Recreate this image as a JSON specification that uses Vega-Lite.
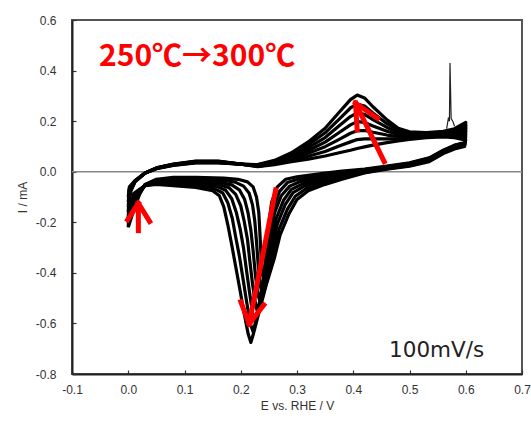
{
"$schema": "https://vega.github.io/schema/vega-lite/v6.json",
"width": 450, "height": 354,
"autosize": "none",
"padding": {"left": 72, "top": 20, "right": 9, "bottom": 47},
"background": "white",
"config": {
 "view": {"stroke": "#555", "strokeWidth": 2},
 "locale": {"number": {"decimal": ".", "thousands": ",", "grouping": [3], "currency": ["$", ""], "minus": "-"}},
 "axis": {"grid": false, "tickSize": -4, "tickColor": "#333", "tickWidth": 1.2, "domainColor": "#222", "domainWidth": 2,
  "labelFont": "Liberation Sans", "labelFontSize": 12, "labelColor": "#333", "labelFlush": false, "labelOverlap": false,
  "titleFont": "Liberation Sans", "titleFontSize": 12, "titleFontWeight": "normal", "titleColor": "#333"}
},
"datasets": {
"spike": [
{"E":0.566,"I":0.17},{"E":0.569,"I":0.21},{"E":0.571,"I":0.2},{"E":0.572,"I":0.43},{"E":0.574,"I":0.21},{"E":0.577,"I":0.2},{"E":0.58,"I":0.18}
],
"cv": [
{"c":0,"o":0,"E":0,"I":-0.22},{"c":0,"o":1,"E":0.002,"I":-0.09},{"c":0,"o":2,"E":0.012,"I":-0.04},{"c":0,"o":3,"E":0.03,"I":-0.005},{"c":0,"o":4,"E":0.05,"I":0.015},{"c":0,"o":5,"E":0.08,"I":0.03},{"c":0,"o":6,"E":0.12,"I":0.042},{"c":0,"o":7,"E":0.16,"I":0.042},{"c":0,"o":8,"E":0.2,"I":0.03},{"c":0,"o":9,"E":0.23,"I":0.02},{"c":0,"o":10,"E":0.26,"I":0.028},{"c":0,"o":11,"E":0.29,"I":0.04},{"c":0,"o":12,"E":0.32,"I":0.05},{"c":0,"o":13,"E":0.35,"I":0.062},{"c":0,"o":14,"E":0.375,"I":0.075},{"c":0,"o":15,"E":0.395,"I":0.085},{"c":0,"o":16,"E":0.407,"I":0.092},{"c":0,"o":17,"E":0.42,"I":0.098},{"c":0,"o":18,"E":0.435,"I":0.105},{"c":0,"o":19,"E":0.46,"I":0.115},{"c":0,"o":20,"E":0.48,"I":0.122},{"c":0,"o":21,"E":0.5,"I":0.128},{"c":0,"o":22,"E":0.53,"I":0.135},{"c":0,"o":23,"E":0.56,"I":0.138},{"c":0,"o":24,"E":0.58,"I":0.135},{"c":0,"o":25,"E":0.6,"I":0.125},
{"c":0,"o":26,"E":0.598,"I":0.115},{"c":0,"o":27,"E":0.58,"I":0.105},{"c":0,"o":28,"E":0.56,"I":0.085},{"c":0,"o":29,"E":0.535,"I":0.055},{"c":0,"o":30,"E":0.5,"I":0.035},{"c":0,"o":31,"E":0.46,"I":0.022},{"c":0,"o":32,"E":0.42,"I":0.01},{"c":0,"o":33,"E":0.38,"I":0.002},{"c":0,"o":34,"E":0.35,"I":-0.005},
{"c":0,"o":35,"E":0.3,"I":-0.02},{"c":0,"o":36,"E":0.28,"I":-0.03},{"c":0,"o":37,"E":0.265,"I":-0.06},{"c":0,"o":38,"E":0.255,"I":-0.12},{"c":0,"o":39,"E":0.249,"I":-0.22},{"c":0,"o":40,"E":0.245,"I":-0.32},{"c":0,"o":41,"E":0.243,"I":-0.38},{"c":0,"o":42,"E":0.242,"I":-0.41},{"c":0,"o":43,"E":0.24,"I":-0.42},{"c":0,"o":44,"E":0.238,"I":-0.4},{"c":0,"o":45,"E":0.236,"I":-0.33},{"c":0,"o":46,"E":0.234,"I":-0.24},{"c":0,"o":47,"E":0.232,"I":-0.16},{"c":0,"o":48,"E":0.228,"I":-0.1},{"c":0,"o":49,"E":0.222,"I":-0.06},{"c":0,"o":50,"E":0.212,"I":-0.04},{"c":0,"o":51,"E":0.195,"I":-0.03},{"c":0,"o":52,"E":0.17,"I":-0.025},
{"c":0,"o":53,"E":0.12,"I":-0.022},{"c":0,"o":54,"E":0.08,"I":-0.022},{"c":0,"o":55,"E":0.05,"I":-0.03},{"c":0,"o":56,"E":0.03,"I":-0.05},{"c":0,"o":57,"E":0.02,"I":-0.09},{"c":0,"o":58,"E":0.01,"I":-0.15},{"c":0,"o":59,"E":0,"I":-0.22},

{"c":1,"o":0,"E":0,"I":-0.2},{"c":1,"o":1,"E":0.002,"I":-0.085},{"c":1,"o":2,"E":0.012,"I":-0.039},{"c":1,"o":3,"E":0.03,"I":-0.005},{"c":1,"o":4,"E":0.05,"I":0.015},{"c":1,"o":5,"E":0.08,"I":0.029},{"c":1,"o":6,"E":0.12,"I":0.041},{"c":1,"o":7,"E":0.16,"I":0.041},{"c":1,"o":8,"E":0.2,"I":0.03},{"c":1,"o":9,"E":0.23,"I":0.021},{"c":1,"o":10,"E":0.26,"I":0.031},{"c":1,"o":11,"E":0.29,"I":0.046},{"c":1,"o":12,"E":0.32,"I":0.061},{"c":1,"o":13,"E":0.35,"I":0.08},{"c":1,"o":14,"E":0.375,"I":0.102},{"c":1,"o":15,"E":0.395,"I":0.118},{"c":1,"o":16,"E":0.407,"I":0.127},{"c":1,"o":17,"E":0.42,"I":0.13},{"c":1,"o":18,"E":0.435,"I":0.13},{"c":1,"o":19,"E":0.46,"I":0.13},{"c":1,"o":20,"E":0.48,"I":0.13},{"c":1,"o":21,"E":0.5,"I":0.133},{"c":1,"o":22,"E":0.53,"I":0.138},{"c":1,"o":23,"E":0.56,"I":0.142},{"c":1,"o":24,"E":0.58,"I":0.141},{"c":1,"o":25,"E":0.6,"I":0.137},
{"c":1,"o":26,"E":0.598,"I":0.113},{"c":1,"o":27,"E":0.58,"I":0.103},{"c":1,"o":28,"E":0.56,"I":0.083},{"c":1,"o":29,"E":0.535,"I":0.053},{"c":1,"o":30,"E":0.5,"I":0.033},{"c":1,"o":31,"E":0.46,"I":0.02},{"c":1,"o":32,"E":0.42,"I":0.008},{"c":1,"o":33,"E":0.38,"I":-0.003},{"c":1,"o":34,"E":0.35,"I":-0.013},
{"c":1,"o":35,"E":0.303,"I":-0.029},{"c":1,"o":36,"E":0.283,"I":-0.043},{"c":1,"o":37,"E":0.269,"I":-0.078},{"c":1,"o":38,"E":0.258,"I":-0.142},{"c":1,"o":39,"E":0.251,"I":-0.24},{"c":1,"o":40,"E":0.245,"I":-0.342},{"c":1,"o":41,"E":0.241,"I":-0.41},{"c":1,"o":42,"E":0.239,"I":-0.449},{"c":1,"o":43,"E":0.236,"I":-0.463},{"c":1,"o":44,"E":0.234,"I":-0.44},{"c":1,"o":45,"E":0.231,"I":-0.368},{"c":1,"o":46,"E":0.228,"I":-0.277},{"c":1,"o":47,"E":0.225,"I":-0.196},{"c":1,"o":48,"E":0.221,"I":-0.132},{"c":1,"o":49,"E":0.215,"I":-0.085},{"c":1,"o":50,"E":0.205,"I":-0.057},{"c":1,"o":51,"E":0.19,"I":-0.041},{"c":1,"o":52,"E":0.167,"I":-0.033},
{"c":1,"o":53,"E":0.12,"I":-0.029},{"c":1,"o":54,"E":0.08,"I":-0.028},{"c":1,"o":55,"E":0.05,"I":-0.033},{"c":1,"o":56,"E":0.03,"I":-0.051},{"c":1,"o":57,"E":0.02,"I":-0.087},{"c":1,"o":58,"E":0.01,"I":-0.139},{"c":1,"o":59,"E":0,"I":-0.2},

{"c":2,"o":0,"E":0,"I":-0.18},{"c":2,"o":1,"E":0.002,"I":-0.08},{"c":2,"o":2,"E":0.012,"I":-0.038},{"c":2,"o":3,"E":0.03,"I":-0.005},{"c":2,"o":4,"E":0.05,"I":0.014},{"c":2,"o":5,"E":0.08,"I":0.028},{"c":2,"o":6,"E":0.12,"I":0.04},{"c":2,"o":7,"E":0.16,"I":0.04},{"c":2,"o":8,"E":0.2,"I":0.03},{"c":2,"o":9,"E":0.23,"I":0.023},{"c":2,"o":10,"E":0.26,"I":0.034},{"c":2,"o":11,"E":0.29,"I":0.052},{"c":2,"o":12,"E":0.32,"I":0.073},{"c":2,"o":13,"E":0.35,"I":0.099},{"c":2,"o":14,"E":0.375,"I":0.128},{"c":2,"o":15,"E":0.395,"I":0.152},{"c":2,"o":16,"E":0.407,"I":0.162},{"c":2,"o":17,"E":0.42,"I":0.163},{"c":2,"o":18,"E":0.435,"I":0.156},{"c":2,"o":19,"E":0.46,"I":0.145},{"c":2,"o":20,"E":0.48,"I":0.139},{"c":2,"o":21,"E":0.5,"I":0.138},{"c":2,"o":22,"E":0.53,"I":0.142},{"c":2,"o":23,"E":0.56,"I":0.145},{"c":2,"o":24,"E":0.58,"I":0.147},{"c":2,"o":25,"E":0.6,"I":0.148},
{"c":2,"o":26,"E":0.598,"I":0.11},{"c":2,"o":27,"E":0.58,"I":0.1},{"c":2,"o":28,"E":0.56,"I":0.081},{"c":2,"o":29,"E":0.535,"I":0.05},{"c":2,"o":30,"E":0.5,"I":0.031},{"c":2,"o":31,"E":0.46,"I":0.018},{"c":2,"o":32,"E":0.42,"I":0.005},{"c":2,"o":33,"E":0.38,"I":-0.009},{"c":2,"o":34,"E":0.35,"I":-0.02},
{"c":2,"o":35,"E":0.307,"I":-0.038},{"c":2,"o":36,"E":0.287,"I":-0.057},{"c":2,"o":37,"E":0.272,"I":-0.095},{"c":2,"o":38,"E":0.26,"I":-0.163},{"c":2,"o":39,"E":0.253,"I":-0.26},{"c":2,"o":40,"E":0.245,"I":-0.363},{"c":2,"o":41,"E":0.239,"I":-0.44},{"c":2,"o":42,"E":0.235,"I":-0.488},{"c":2,"o":43,"E":0.233,"I":-0.505},{"c":2,"o":44,"E":0.23,"I":-0.48},{"c":2,"o":45,"E":0.226,"I":-0.407},{"c":2,"o":46,"E":0.222,"I":-0.313},{"c":2,"o":47,"E":0.218,"I":-0.232},{"c":2,"o":48,"E":0.213,"I":-0.163},{"c":2,"o":49,"E":0.207,"I":-0.11},{"c":2,"o":50,"E":0.198,"I":-0.073},{"c":2,"o":51,"E":0.184,"I":-0.052},{"c":2,"o":52,"E":0.163,"I":-0.042},
{"c":2,"o":53,"E":0.12,"I":-0.035},{"c":2,"o":54,"E":0.08,"I":-0.033},{"c":2,"o":55,"E":0.05,"I":-0.037},{"c":2,"o":56,"E":0.03,"I":-0.052},{"c":2,"o":57,"E":0.02,"I":-0.083},{"c":2,"o":58,"E":0.01,"I":-0.128},{"c":2,"o":59,"E":0,"I":-0.18},

{"c":3,"o":0,"E":0,"I":-0.16},{"c":3,"o":1,"E":0.002,"I":-0.075},{"c":3,"o":2,"E":0.012,"I":-0.038},{"c":3,"o":3,"E":0.03,"I":-0.005},{"c":3,"o":4,"E":0.05,"I":0.014},{"c":3,"o":5,"E":0.08,"I":0.028},{"c":3,"o":6,"E":0.12,"I":0.039},{"c":3,"o":7,"E":0.16,"I":0.039},{"c":3,"o":8,"E":0.2,"I":0.03},{"c":3,"o":9,"E":0.23,"I":0.024},{"c":3,"o":10,"E":0.26,"I":0.037},{"c":3,"o":11,"E":0.29,"I":0.058},{"c":3,"o":12,"E":0.32,"I":0.084},{"c":3,"o":13,"E":0.35,"I":0.117},{"c":3,"o":14,"E":0.375,"I":0.155},{"c":3,"o":15,"E":0.395,"I":0.185},{"c":3,"o":16,"E":0.407,"I":0.198},{"c":3,"o":17,"E":0.42,"I":0.195},{"c":3,"o":18,"E":0.435,"I":0.181},{"c":3,"o":19,"E":0.46,"I":0.16},{"c":3,"o":20,"E":0.48,"I":0.147},{"c":3,"o":21,"E":0.5,"I":0.143},{"c":3,"o":22,"E":0.53,"I":0.145},{"c":3,"o":23,"E":0.56,"I":0.149},{"c":3,"o":24,"E":0.58,"I":0.153},{"c":3,"o":25,"E":0.6,"I":0.16},
{"c":3,"o":26,"E":0.598,"I":0.108},{"c":3,"o":27,"E":0.58,"I":0.098},{"c":3,"o":28,"E":0.56,"I":0.079},{"c":3,"o":29,"E":0.535,"I":0.048},{"c":3,"o":30,"E":0.5,"I":0.029},{"c":3,"o":31,"E":0.46,"I":0.016},{"c":3,"o":32,"E":0.42,"I":0.003},{"c":3,"o":33,"E":0.38,"I":-0.014},{"c":3,"o":34,"E":0.35,"I":-0.028},
{"c":3,"o":35,"E":0.31,"I":-0.048},{"c":3,"o":36,"E":0.29,"I":-0.07},{"c":3,"o":37,"E":0.276,"I":-0.113},{"c":3,"o":38,"E":0.263,"I":-0.185},{"c":3,"o":39,"E":0.255,"I":-0.28},{"c":3,"o":40,"E":0.245,"I":-0.385},{"c":3,"o":41,"E":0.238,"I":-0.47},{"c":3,"o":42,"E":0.232,"I":-0.528},{"c":3,"o":43,"E":0.229,"I":-0.548},{"c":3,"o":44,"E":0.226,"I":-0.52},{"c":3,"o":45,"E":0.221,"I":-0.445},{"c":3,"o":46,"E":0.216,"I":-0.35},{"c":3,"o":47,"E":0.212,"I":-0.268},{"c":3,"o":48,"E":0.206,"I":-0.195},{"c":3,"o":49,"E":0.2,"I":-0.135},{"c":3,"o":50,"E":0.191,"I":-0.09},{"c":3,"o":51,"E":0.179,"I":-0.063},{"c":3,"o":52,"E":0.16,"I":-0.05},
{"c":3,"o":53,"E":0.12,"I":-0.042},{"c":3,"o":54,"E":0.08,"I":-0.039},{"c":3,"o":55,"E":0.05,"I":-0.04},{"c":3,"o":56,"E":0.03,"I":-0.053},{"c":3,"o":57,"E":0.02,"I":-0.08},{"c":3,"o":58,"E":0.01,"I":-0.118},{"c":3,"o":59,"E":0,"I":-0.16},

{"c":4,"o":0,"E":0,"I":-0.14},{"c":4,"o":1,"E":0.002,"I":-0.07},{"c":4,"o":2,"E":0.012,"I":-0.037},{"c":4,"o":3,"E":0.03,"I":-0.005},{"c":4,"o":4,"E":0.05,"I":0.013},{"c":4,"o":5,"E":0.08,"I":0.027},{"c":4,"o":6,"E":0.12,"I":0.037},{"c":4,"o":7,"E":0.16,"I":0.037},{"c":4,"o":8,"E":0.2,"I":0.03},{"c":4,"o":9,"E":0.23,"I":0.025},{"c":4,"o":10,"E":0.26,"I":0.039},{"c":4,"o":11,"E":0.29,"I":0.063},{"c":4,"o":12,"E":0.32,"I":0.095},{"c":4,"o":13,"E":0.35,"I":0.135},{"c":4,"o":14,"E":0.375,"I":0.182},{"c":4,"o":15,"E":0.395,"I":0.218},{"c":4,"o":16,"E":0.407,"I":0.233},{"c":4,"o":17,"E":0.42,"I":0.227},{"c":4,"o":18,"E":0.435,"I":0.206},{"c":4,"o":19,"E":0.46,"I":0.175},{"c":4,"o":20,"E":0.48,"I":0.155},{"c":4,"o":21,"E":0.5,"I":0.148},{"c":4,"o":22,"E":0.53,"I":0.148},{"c":4,"o":23,"E":0.56,"I":0.153},{"c":4,"o":24,"E":0.58,"I":0.158},{"c":4,"o":25,"E":0.6,"I":0.172},
{"c":4,"o":26,"E":0.598,"I":0.105},{"c":4,"o":27,"E":0.58,"I":0.095},{"c":4,"o":28,"E":0.56,"I":0.076},{"c":4,"o":29,"E":0.535,"I":0.045},{"c":4,"o":30,"E":0.5,"I":0.026},{"c":4,"o":31,"E":0.46,"I":0.014},{"c":4,"o":32,"E":0.42,"I":0.0},{"c":4,"o":33,"E":0.38,"I":-0.019},{"c":4,"o":34,"E":0.35,"I":-0.035},
{"c":4,"o":35,"E":0.313,"I":-0.057},{"c":4,"o":36,"E":0.293,"I":-0.083},{"c":4,"o":37,"E":0.279,"I":-0.13},{"c":4,"o":38,"E":0.265,"I":-0.207},{"c":4,"o":39,"E":0.256,"I":-0.3},{"c":4,"o":40,"E":0.245,"I":-0.407},{"c":4,"o":41,"E":0.236,"I":-0.5},{"c":4,"o":42,"E":0.229,"I":-0.567},{"c":4,"o":43,"E":0.225,"I":-0.59},{"c":4,"o":44,"E":0.221,"I":-0.56},{"c":4,"o":45,"E":0.216,"I":-0.483},{"c":4,"o":46,"E":0.21,"I":-0.387},{"c":4,"o":47,"E":0.205,"I":-0.303},{"c":4,"o":48,"E":0.199,"I":-0.227},{"c":4,"o":49,"E":0.192,"I":-0.16},{"c":4,"o":50,"E":0.184,"I":-0.107},{"c":4,"o":51,"E":0.173,"I":-0.073},{"c":4,"o":52,"E":0.157,"I":-0.058},
{"c":4,"o":53,"E":0.12,"I":-0.049},{"c":4,"o":54,"E":0.08,"I":-0.044},{"c":4,"o":55,"E":0.05,"I":-0.043},{"c":4,"o":56,"E":0.03,"I":-0.053},{"c":4,"o":57,"E":0.02,"I":-0.077},{"c":4,"o":58,"E":0.01,"I":-0.107},{"c":4,"o":59,"E":0,"I":-0.14},

{"c":5,"o":0,"E":0,"I":-0.12},{"c":5,"o":1,"E":0.002,"I":-0.065},{"c":5,"o":2,"E":0.012,"I":-0.036},{"c":5,"o":3,"E":0.03,"I":-0.005},{"c":5,"o":4,"E":0.05,"I":0.013},{"c":5,"o":5,"E":0.08,"I":0.026},{"c":5,"o":6,"E":0.12,"I":0.036},{"c":5,"o":7,"E":0.16,"I":0.036},{"c":5,"o":8,"E":0.2,"I":0.03},{"c":5,"o":9,"E":0.23,"I":0.027},{"c":5,"o":10,"E":0.26,"I":0.042},{"c":5,"o":11,"E":0.29,"I":0.069},{"c":5,"o":12,"E":0.32,"I":0.107},{"c":5,"o":13,"E":0.35,"I":0.154},{"c":5,"o":14,"E":0.375,"I":0.208},{"c":5,"o":15,"E":0.395,"I":0.252},{"c":5,"o":16,"E":0.407,"I":0.268},{"c":5,"o":17,"E":0.42,"I":0.26},{"c":5,"o":18,"E":0.435,"I":0.232},{"c":5,"o":19,"E":0.46,"I":0.19},{"c":5,"o":20,"E":0.48,"I":0.164},{"c":5,"o":21,"E":0.5,"I":0.153},{"c":5,"o":22,"E":0.53,"I":0.152},{"c":5,"o":23,"E":0.56,"I":0.156},{"c":5,"o":24,"E":0.58,"I":0.164},{"c":5,"o":25,"E":0.6,"I":0.183},
{"c":5,"o":26,"E":0.598,"I":0.103},{"c":5,"o":27,"E":0.58,"I":0.093},{"c":5,"o":28,"E":0.56,"I":0.074},{"c":5,"o":29,"E":0.535,"I":0.043},{"c":5,"o":30,"E":0.5,"I":0.024},{"c":5,"o":31,"E":0.46,"I":0.012},{"c":5,"o":32,"E":0.42,"I":-0.003},{"c":5,"o":33,"E":0.38,"I":-0.025},{"c":5,"o":34,"E":0.35,"I":-0.043},
{"c":5,"o":35,"E":0.317,"I":-0.066},{"c":5,"o":36,"E":0.297,"I":-0.097},{"c":5,"o":37,"E":0.283,"I":-0.148},{"c":5,"o":38,"E":0.268,"I":-0.228},{"c":5,"o":39,"E":0.258,"I":-0.32},{"c":5,"o":40,"E":0.245,"I":-0.428},{"c":5,"o":41,"E":0.234,"I":-0.53},{"c":5,"o":42,"E":0.225,"I":-0.606},{"c":5,"o":43,"E":0.222,"I":-0.633},{"c":5,"o":44,"E":0.217,"I":-0.6},{"c":5,"o":45,"E":0.211,"I":-0.522},{"c":5,"o":46,"E":0.204,"I":-0.423},{"c":5,"o":47,"E":0.198,"I":-0.339},{"c":5,"o":48,"E":0.191,"I":-0.258},{"c":5,"o":49,"E":0.185,"I":-0.185},{"c":5,"o":50,"E":0.177,"I":-0.123},{"c":5,"o":51,"E":0.168,"I":-0.084},{"c":5,"o":52,"E":0.153,"I":-0.067},
{"c":5,"o":53,"E":0.12,"I":-0.055},{"c":5,"o":54,"E":0.08,"I":-0.05},{"c":5,"o":55,"E":0.05,"I":-0.047},{"c":5,"o":56,"E":0.03,"I":-0.054},{"c":5,"o":57,"E":0.02,"I":-0.073},{"c":5,"o":58,"E":0.01,"I":-0.096},{"c":5,"o":59,"E":0,"I":-0.12},

{"c":6,"o":0,"E":0,"I":-0.1},{"c":6,"o":1,"E":0.002,"I":-0.06},{"c":6,"o":2,"E":0.012,"I":-0.035},{"c":6,"o":3,"E":0.03,"I":-0.005},{"c":6,"o":4,"E":0.05,"I":0.012},{"c":6,"o":5,"E":0.08,"I":0.025},{"c":6,"o":6,"E":0.12,"I":0.035},{"c":6,"o":7,"E":0.16,"I":0.035},{"c":6,"o":8,"E":0.2,"I":0.03},{"c":6,"o":9,"E":0.23,"I":0.028},{"c":6,"o":10,"E":0.26,"I":0.045},{"c":6,"o":11,"E":0.29,"I":0.075},{"c":6,"o":12,"E":0.32,"I":0.118},{"c":6,"o":13,"E":0.35,"I":0.172},{"c":6,"o":14,"E":0.375,"I":0.235},{"c":6,"o":15,"E":0.395,"I":0.285},{"c":6,"o":16,"E":0.407,"I":0.303},{"c":6,"o":17,"E":0.42,"I":0.292},{"c":6,"o":18,"E":0.435,"I":0.257},{"c":6,"o":19,"E":0.46,"I":0.205},{"c":6,"o":20,"E":0.48,"I":0.172},{"c":6,"o":21,"E":0.5,"I":0.158},{"c":6,"o":22,"E":0.53,"I":0.155},{"c":6,"o":23,"E":0.56,"I":0.16},{"c":6,"o":24,"E":0.58,"I":0.17},{"c":6,"o":25,"E":0.6,"I":0.195},
{"c":6,"o":26,"E":0.598,"I":0.1},{"c":6,"o":27,"E":0.58,"I":0.09},{"c":6,"o":28,"E":0.56,"I":0.072},{"c":6,"o":29,"E":0.535,"I":0.04},{"c":6,"o":30,"E":0.5,"I":0.022},{"c":6,"o":31,"E":0.46,"I":0.01},{"c":6,"o":32,"E":0.42,"I":-0.005},{"c":6,"o":33,"E":0.38,"I":-0.03},{"c":6,"o":34,"E":0.35,"I":-0.05},
{"c":6,"o":35,"E":0.32,"I":-0.075},{"c":6,"o":36,"E":0.3,"I":-0.11},{"c":6,"o":37,"E":0.286,"I":-0.165},{"c":6,"o":38,"E":0.27,"I":-0.25},{"c":6,"o":39,"E":0.26,"I":-0.34},{"c":6,"o":40,"E":0.245,"I":-0.45},{"c":6,"o":41,"E":0.232,"I":-0.56},{"c":6,"o":42,"E":0.222,"I":-0.645},{"c":6,"o":43,"E":0.218,"I":-0.675},{"c":6,"o":44,"E":0.213,"I":-0.64},{"c":6,"o":45,"E":0.206,"I":-0.56},{"c":6,"o":46,"E":0.198,"I":-0.46},{"c":6,"o":47,"E":0.191,"I":-0.375},{"c":6,"o":48,"E":0.184,"I":-0.29},{"c":6,"o":49,"E":0.177,"I":-0.21},{"c":6,"o":50,"E":0.17,"I":-0.14},{"c":6,"o":51,"E":0.162,"I":-0.095},{"c":6,"o":52,"E":0.15,"I":-0.075},
{"c":6,"o":53,"E":0.12,"I":-0.062},{"c":6,"o":54,"E":0.08,"I":-0.055},{"c":6,"o":55,"E":0.05,"I":-0.05},{"c":6,"o":56,"E":0.03,"I":-0.055},{"c":6,"o":57,"E":0.02,"I":-0.07},{"c":6,"o":58,"E":0.01,"I":-0.085},{"c":6,"o":59,"E":0,"I":-0.1}
]
},
"layer": [
 {"data": {"values": [{"zero": 0}]},
  "mark": {"type": "rule", "color": "#888", "strokeWidth": 1.6},
  "encoding": {"y": {"field": "zero", "type": "quantitative", "title": "I / mA"}}},
 {"data": {"name": "cv"},
  "mark": {"type": "line", "color": "black", "strokeWidth": 3.2, "strokeJoin": "round"},
  "encoding": {
   "x": {"field": "E", "type": "quantitative", "title": "E vs. RHE / V",
    "scale": {"domain": [-0.1, 0.7], "nice": false, "zero": false},
    "axis": {"values": [-0.1, 0, 0.1, 0.2, 0.3, 0.4, 0.5, 0.6, 0.7], "format": ".1f", "labelPadding": 14, "titlePadding": 5}},
   "y": {"field": "I", "type": "quantitative", "title": "I / mA",
    "scale": {"domain": [-0.8, 0.6], "nice": false, "zero": false},
    "axis": {"values": [-0.8, -0.6, -0.4, -0.2, 0, 0.2, 0.4, 0.6], "format": ".1f", "labelPadding": 20, "titlePadding": 6}},
   "detail": {"field": "c", "type": "nominal"},
   "order": {"field": "o", "type": "quantitative"}
  }},
 {"data": {"name": "spike"},
  "mark": {"type": "line", "color": "#222", "strokeWidth": 1.2},
  "encoding": {
   "x": {"field": "E", "type": "quantitative", "title": "E vs. RHE / V"},
   "y": {"field": "I", "type": "quantitative", "title": "I / mA"}}},
 {"data": {"values": [
   {"E": 0.455, "I": 0.04, "E2": 0.406, "I2": 0.262},
   {"E": 0.404, "I": 0.272, "E2": 0.407, "I2": 0.165},
   {"E": 0.404, "I": 0.272, "E2": 0.443, "I2": 0.211},
   {"E": 0.262, "I": -0.072, "E2": 0.216, "I2": -0.59},
   {"E": 0.215, "I": -0.602, "E2": 0.2, "I2": -0.514},
   {"E": 0.215, "I": -0.602, "E2": 0.241, "I2": -0.527},
   {"E": 0.018, "I": -0.233, "E2": 0.018, "I2": -0.13},
   {"E": 0.018, "I": -0.125, "E2": -0.001, "I2": -0.19},
   {"E": 0.018, "I": -0.125, "E2": 0.038, "I2": -0.197}]},
  "mark": {"type": "rule", "color": "#ff0000", "strokeWidth": 5, "strokeCap": "square"},
  "encoding": {
   "x": {"field": "E", "type": "quantitative", "title": "E vs. RHE / V"},
   "y": {"field": "I", "type": "quantitative", "title": "I / mA"},
   "x2": {"field": "E2"}, "y2": {"field": "I2"}}},
 {"data": {"values": [{"E": -0.052, "I": 0.42, "label": "250℃→300℃"}]},
  "mark": {"type": "text", "align": "left", "baseline": "alphabetic", "font": "Noto Sans CJK JP", "fontWeight": "bold", "fontSize": 30, "color": "#ff0000"},
  "encoding": {
   "x": {"field": "E", "type": "quantitative", "title": "E vs. RHE / V"},
   "y": {"field": "I", "type": "quantitative", "title": "I / mA"},
   "text": {"field": "label"}}},
 {"data": {"values": [{"E": 0.4636, "I": -0.731, "label": "100mV/s"}]},
  "mark": {"type": "text", "align": "left", "baseline": "alphabetic", "font": "DejaVu Sans", "fontSize": 21.5, "color": "#222"},
  "encoding": {
   "x": {"field": "E", "type": "quantitative", "title": "E vs. RHE / V"},
   "y": {"field": "I", "type": "quantitative", "title": "I / mA"},
   "text": {"field": "label"}}}
]
}
